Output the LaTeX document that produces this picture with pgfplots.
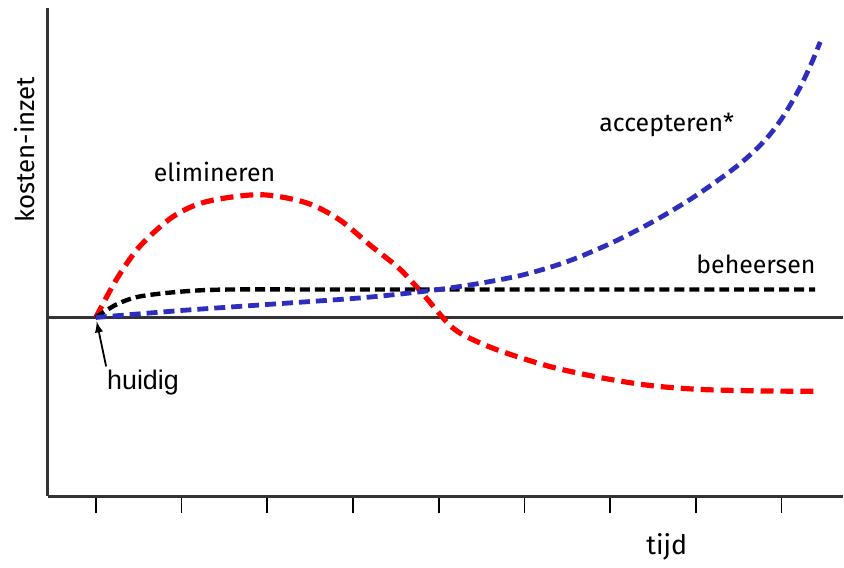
\documentclass[border=0pt]{standalone}
\usepackage{pgfplots}
\pgfplotsset{compat=1.18}
\usepackage{fontspec}
\setmainfont{Fira Sans}
\newfontfamily\arialfont{Liberation Sans}
\definecolor{redline}{RGB}{255,0,0}
\definecolor{blueline}{RGB}{46,46,190}
\definecolor{spine}{RGB}{51,51,51}
\begin{document}
\begin{tikzpicture}[x=1bp,y=1bp]
    \begin{axis}
        [
            scale only axis,
            width=398bp,
            height=244.5bp,
            xmin=-0.56,xmax=8.71,
            ymin=-1.79,ymax=3.10,
            axis x line=bottom,
            axis y line=left,
            axis line style={-, line width=1.5bp, spine},
            xtick={0,1,2,3,4,5,6,7,8},
            xticklabels={},
            ytick=\empty,
            tick align=outside,
            major tick length=8.5bp,
            x tick style={black, line width=0.8bp},
            clip=false,
        ]
        % nullijn
        \addplot [spine, line width=1.5bp] coordinates {(-0.56,0) (8.71,0)};

        % elimineren
        \addplot [redline, line width=2.6bp, dash pattern=on 6.5bp off 3.5bp, smooth, tension=0.5] coordinates {
            (0,0) (0.24,0.38) (0.51,0.71) (0.90,1.01) (1.29,1.16) (1.91,1.23)
            (2.45,1.15) (2.84,0.98) (3.22,0.71) (3.54,0.49) (3.81,0.24)
            (4.12,-0.07) (4.32,-0.19) (4.70,-0.33) (5.29,-0.49) (5.87,-0.60)
            (6.45,-0.68) (7.03,-0.72) (7.70,-0.735) (8.39,-0.74)
        };

        % beheersen
        \addplot [black, line width=2.2bp, dash pattern=on 5bp off 2.5bp, smooth, tension=0.5] coordinates {
            (0,0) (0.24,0.13) (0.51,0.21) (1.01,0.26) (1.56,0.28) (3,0.28) (8.39,0.28)
        };

        % accepteren
        \addplot [blueline, line width=2.4bp, dash pattern=on 5.5bp off 3bp, smooth, tension=0.5] coordinates {
            (0,0) (1,0.07) (2,0.13) (3,0.19) (3.5,0.23) (4,0.28) (4.5,0.345)
            (5,0.43) (5.5,0.56) (6,0.74) (6.5,0.96) (7,1.22) (7.5,1.53)
            (7.8,1.77) (8,1.99) (8.2,2.28) (8.35,2.55) (8.45,2.76)
        };

        \node [font=\fontsize{12.5}{14}\selectfont] at (axis cs:1.385,1.46) {elimineren};
        \node [font=\fontsize{12.5}{14}\selectfont] at (axis cs:6.66,1.93) {accepteren*};
        \node [font=\fontsize{12.5}{14}\selectfont] at (axis cs:7.70,0.53) {beheersen};
        \node [font=\arialfont\fontsize{13.5}{15}\selectfont] at (axis cs:0.55,-0.65) {huidig};
        \node [font=\fontsize{13.5}{15}\selectfont] at (axis cs:6.66,-2.30) {tijd};
        \node [font=\fontsize{13}{15}\selectfont, rotate=90] at (axis cs:-0.83,1.68) {kosten-inzet};
        \draw [-latex, black, line width=0.9bp] (axis cs:0.12,-0.49) -- (axis cs:0.01,-0.04);

        \path (axis cs:-1.118,-2.44) rectangle (axis cs:8.708,3.18);
    \end{axis}
\end{tikzpicture}
\end{document}
